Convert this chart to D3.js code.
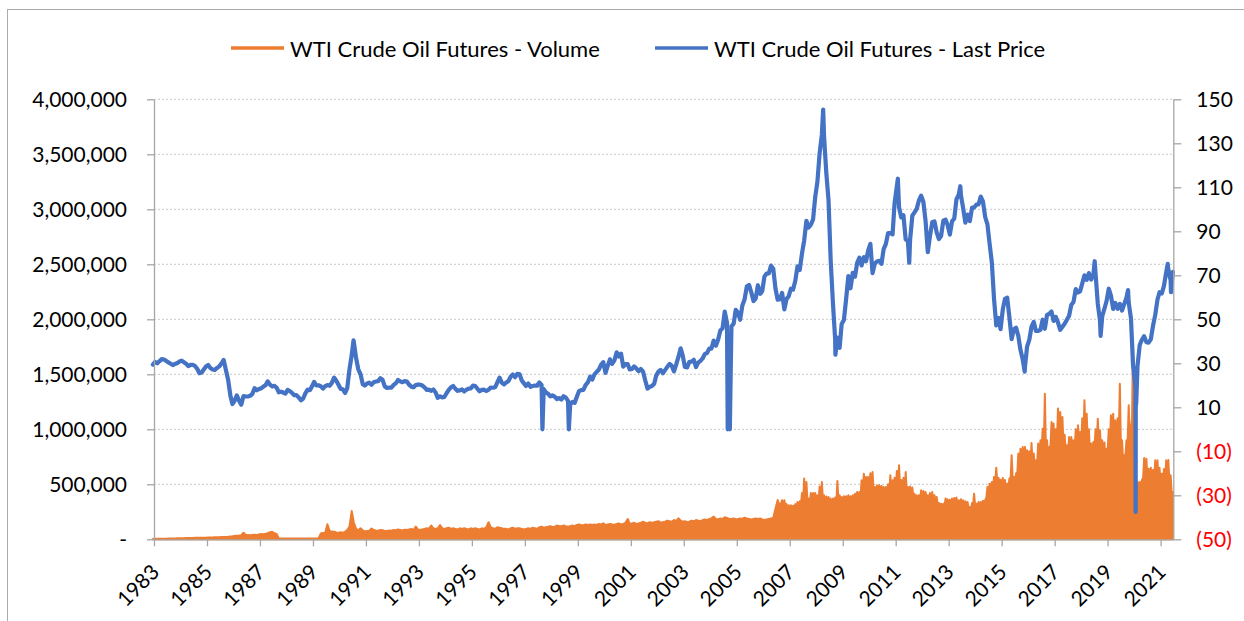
<!DOCTYPE html>
<html>
<head>
<meta charset="utf-8">
<script src="https://cdn.jsdelivr.net/npm/d3@7/dist/d3.min.js"></script>
<style>
  body { margin: 0; background: #fff; }
  text { font-family: Lato, "Open Sans", sans-serif; }
</style>
</head>
<body>
<svg id="chart" width="1244" height="621"></svg>
<script>
// ---- data ---------------------------------------------------------------
// Monthly series start in March 1983 (first month of WTI futures trading)
const firstMonth = [1983, 3];

// Last price, USD per barrel, one value per month (Mar 1983 - Sep 2021)
const priceMonthly = [
  /*1983*/ 29.4, 30.6, 30.0, 31.0, 31.9, 31.7, 31.1, 30.4, 29.8, 29.2,
  /*1984*/ 29.7, 30.1, 30.8, 31.2, 30.5, 29.8, 28.7, 29.3, 29.3, 28.8, 27.5, 25.5,
  /*1985*/ 25.8, 27.3, 28.5, 29.2, 27.9, 27.2, 27.0, 27.9, 28.6, 29.9, 31.5, 27.0,
  /*1986*/ 22.5, 15.4, 11.5, 13.0, 15.4, 13.0, 11.2, 15.1, 14.9, 14.9, 15.2, 16.1,
  /*1987*/ 18.7, 17.7, 18.3, 18.6, 19.4, 20.0, 21.8, 20.3, 19.5, 19.8, 18.9, 16.8,
  /*1988*/ 17.1, 16.7, 16.2, 17.9, 17.4, 16.5, 15.5, 15.5, 14.5, 13.2, 14.0, 16.3,
  /*1989*/ 18.0, 17.8, 19.4, 21.5, 20.0, 20.0, 19.6, 18.5, 19.6, 20.1, 19.8, 21.1,
  /*1990*/ 23.5, 22.1, 20.4, 18.4, 18.2, 16.5, 18.6, 27.2, 33.7, 39.5, 32.3, 27.3,
  /*1991*/ 25.0, 20.5, 19.9, 20.8, 21.2, 20.2, 21.4, 21.7, 21.9, 23.2, 22.5, 19.5,
  /*1992*/ 18.8, 19.0, 18.9, 20.2, 20.9, 22.4, 21.8, 21.4, 21.9, 21.7, 20.3, 19.4,
  /*1993*/ 19.1, 20.1, 20.3, 20.3, 19.9, 19.1, 17.9, 18.0, 17.5, 18.1, 16.7, 14.3,
  /*1994*/ 15.0, 14.5, 14.7, 16.4, 17.9, 19.1, 19.7, 18.4, 17.5, 17.7, 18.1, 17.2,
  /*1995*/ 18.0, 18.5, 18.6, 19.9, 19.7, 18.4, 17.3, 17.9, 18.0, 17.4, 18.0, 19.0,
  /*1996*/ 18.9, 19.1, 21.3, 23.5, 21.2, 20.4, 21.3, 21.9, 23.9, 24.9, 23.7, 25.2,
  /*1997*/ 25.1, 22.2, 21.0, 19.7, 20.8, 19.3, 19.7, 19.9, 19.8, 21.3, 20.2, 18.3,
  /*1998*/ 16.7, 16.1, 15.0, 15.4, 14.9, 13.7, 14.2, 13.5, 15.0, 14.4, 12.9, 11.3,
  /*1999*/ 12.5, 12.0, 14.7, 17.3, 17.8, 17.9, 20.1, 21.3, 23.9, 22.6, 25.0, 26.1,
  /*2000*/ 27.2, 29.4, 30.5, 25.7, 28.8, 31.8, 29.7, 31.3, 35.0, 33.1, 34.4, 28.5,
  /*2001*/ 29.6, 29.6, 27.2, 27.4, 28.6, 27.6, 26.4, 27.4, 26.2, 22.2, 18.5, 19.3,
  /*2002*/ 19.7, 20.7, 24.4, 26.2, 27.0, 25.5, 26.9, 28.4, 29.7, 28.9, 26.3, 29.4,
  /*2003*/ 32.9, 36.8, 33.6, 28.3, 28.1, 30.7, 30.8, 31.6, 28.3, 30.3, 31.1, 32.2,
  /*2004*/ 34.3, 34.7, 36.7, 36.7, 40.3, 38.0, 40.7, 44.9, 45.9, 53.5, 48.5, 43.3,
  /*2005*/ 46.8, 48.0, 54.3, 53.0, 49.8, 56.3, 59.0, 64.9, 65.6, 62.4, 58.3, 59.4,
  /*2006*/ 65.5, 61.6, 62.7, 69.4, 70.8, 70.9, 74.4, 73.0, 63.8, 58.9, 59.1, 62.0,
  /*2007*/ 54.5, 59.3, 60.4, 63.9, 63.5, 67.5, 74.1, 72.4, 79.9, 85.8, 94.8, 91.7,
  /*2008*/ 93.0, 95.4, 105.5, 112.6, 125.4, 133.9, 133.4, 116.7, 104.1, 76.6, 57.3, 41.1,
  /*2009*/ 41.7, 37.0, 47.9, 49.7, 59.0, 69.6, 64.1, 71.1, 69.4, 75.7, 78.0, 74.5,
  /*2010*/ 78.3, 76.4, 81.2, 84.3, 71.0, 75.3, 76.3, 76.6, 75.2, 81.9, 84.3, 89.2,
  /*2011*/ 89.2, 88.6, 102.9, 110.5, 100.9, 96.3, 97.3, 86.3, 85.5, 86.3, 97.2, 98.6,
  /*2012*/ 100.3, 104.2, 106.2, 103.3, 94.7, 80.5, 87.9, 94.1, 94.5, 89.5, 86.5, 87.9,
  /*2013*/ 94.8, 95.3, 92.9, 88.5, 94.5, 95.8, 104.6, 106.6, 106.3, 100.5, 93.9, 97.6,
  /*2014*/ 94.6, 100.8, 100.8, 102.1, 102.2, 105.8, 103.6, 96.5, 93.2, 84.4, 75.8, 59.3,
  /*2015*/ 47.2, 50.6, 45.5, 54.5, 59.3, 59.8, 50.9, 41.0, 45.5, 46.2, 42.4, 36.0,
  /*2016*/ 31.7, 28.5, 37.6, 40.8, 46.7, 48.8, 44.7, 44.7, 45.2, 49.8, 45.7, 52.0,
  /*2017*/ 52.5, 53.5, 49.3, 51.1, 48.5, 45.2, 46.6, 48.0, 49.8, 51.6, 56.6, 57.9,
  /*2018*/ 63.7, 62.2, 62.7, 66.3, 70.0, 67.9, 71.0, 68.1, 70.2, 70.8, 57.0, 49.5,
  /*2019*/ 51.4, 54.9, 58.2, 63.9, 60.8, 54.7, 57.4, 54.8, 57.0, 54.0, 57.0, 59.8,
  /*2020*/ 57.5, 50.5, 29.2, 19.9, 28.6, 38.3, 40.7, 42.3, 39.6, 39.4, 40.9, 47.0,
  /*2021*/ 52.0, 59.0, 62.3, 61.7, 65.2, 71.4, 72.5, 67.7, 71.6
];

// Individual daily prints that stand out from the monthly path
const priceDaily = [
  ["1990-10-10", 40.4],
  ["1997-11-27", 0], ["1998-11-26", 0],
  ["2004-11-25", 0], ["2004-12-24", 0],
  ["2008-07-03", 145.3], ["2008-12-19", 33.9],
  ["2011-04-29", 113.9], ["2011-10-03", 75.7],
  ["2013-09-06", 110.5],
  ["2016-02-11", 26.2],
  ["2018-10-03", 76.4], ["2018-12-24", 42.5],
  ["2020-01-06", 63.3],
  ["2020-04-17", 18.3], ["2020-04-20", -37.6], ["2020-04-21", 10.0], ["2020-04-28", 12.3],
  ["2021-07-06", 75.2], ["2021-08-20", 62.3]
];

// Volume, thousand contracts: busiest session of each month (Mar 1983 - Sep 2021)
const volumePeak = [
  /*1983*/ 3, 4, 4, 5, 5, 6, 6, 7, 7, 8,
  /*1984*/ 8, 9, 9, 10, 10, 11, 11, 12, 12, 13, 13, 14,
  /*1985*/ 14, 15, 15, 16, 17, 17, 18, 19, 19, 20, 21, 22,
  /*1986*/ 23, 25, 27, 30, 32, 34, 38, 60, 42, 38, 36, 40,
  /*1987*/ 42, 40, 44, 48, 46, 50, 55, 65, 69, 55, 48, 8,
  /*1988*/ 8, 8, 8, 8, 8, 8, 8, 8, 8, 8, 8, 8,
  /*1989*/ 8, 8, 8, 8, 8, 8, 52, 58, 60, 136, 75, 70,
  /*1990*/ 68, 62, 60, 64, 60, 68, 85, 115, 257, 150, 95, 80,
  /*1991*/ 100, 82, 72, 76, 78, 98, 85, 80, 78, 85, 82, 75,
  /*1992*/ 75, 80, 78, 85, 82, 90, 85, 80, 88, 85, 90, 95,
  /*1993*/ 85, 115, 90, 85, 90, 95, 100, 95, 126, 100, 95, 100,
  /*1994*/ 130, 100, 95, 100, 105, 95, 100, 95, 90, 100, 95, 100,
  /*1995*/ 95, 90, 100, 95, 100, 95, 90, 100, 95, 110, 155, 110,
  /*1996*/ 100, 95, 110, 105, 100, 95, 95, 90, 100, 105, 95, 100,
  /*1997*/ 100, 95, 90, 95, 100, 95, 105, 100, 95, 110, 115, 105,
  /*1998*/ 110, 115, 120, 110, 115, 125, 120, 118, 126, 120, 115, 120,
  /*1999*/ 125, 120, 130, 135, 130, 128, 135, 130, 136, 130, 135, 130,
  /*2000*/ 140, 135, 145, 130, 135, 140, 135, 130, 140, 145, 135, 140,
  /*2001*/ 150, 185, 140, 145, 150, 140, 145, 150, 160, 150, 145, 155,
  /*2002*/ 150, 155, 160, 165, 150, 155, 160, 170, 165, 160, 176, 165,
  /*2003*/ 191, 170, 160, 165, 155, 160, 170, 165, 175, 170, 165, 175,
  /*2004*/ 180, 175, 185, 190, 206, 185, 180, 190, 185, 200, 195, 185,
  /*2005*/ 185, 190, 180, 185, 190, 185, 197, 190, 185, 180, 185, 190,
  /*2006*/ 185, 190, 180, 175, 180, 185, 190, 195, 280, 357, 300, 355,
  /*2007*/ 355, 320, 309, 309, 305, 320, 339, 345, 420, 552, 521, 370,
  /*2008*/ 421, 421, 421, 400, 480, 521, 400, 390, 385, 370, 370, 380,
  /*2009*/ 530, 400, 385, 391, 391, 400, 391, 400, 415, 430, 430, 536,
  /*2010*/ 597, 567, 567, 600, 612, 476, 491, 491, 485, 476, 476, 500,
  /*2011*/ 582, 536, 560, 620, 673, 540, 560, 612, 476, 480, 470, 415,
  /*2012*/ 400, 400, 445, 440, 430, 400, 420, 430, 400, 385, 330, 324,
  /*2013*/ 324, 370, 365, 360, 370, 375, 379, 355, 365, 355, 345, 339,
  /*2014*/ 294, 330, 415, 324, 339, 339, 350, 355, 476, 506, 520, 567,
  /*2015*/ 651, 560, 542, 558, 540, 506, 552, 764, 567, 600, 779, 824,
  /*2016*/ 840, 840, 809, 800, 876, 780, 718, 870, 900, 1006, 1324, 900,
  /*2017*/ 840, 1067, 1052, 1000, 1188, 1158, 1112, 950, 855, 930, 930, 900,
  /*2018*/ 1000, 1036, 976, 1100, 1264, 1142, 1000, 870, 885, 1000, 1097, 991,
  /*2019*/ 900, 880, 824, 1000, 1127, 1142, 1082, 1100, 1415, 900, 764, 900,
  /*2020*/ 1218, 1000, 1780, 700, 524, 520, 540, 739, 733, 642, 651, 630,
  /*2021*/ 718, 718, 650, 597, 640, 718, 721, 582, 430
];

// Volume, thousand contracts: ordinary busy-session level from Jan 2007 on,
// when daily turnover starts swinging widely around its typical level
const bodyFirstMonth = [2007, 1];
const volumeBody = [
  /*2007*/ 290, 290, 280, 280, 280, 290, 300, 300, 320, 350, 350, 330,
  /*2008*/ 330, 340, 350, 340, 350, 360, 340, 330, 320, 300, 300, 300,
  /*2009*/ 330, 330, 330, 340, 340, 350, 350, 350, 360, 370, 370, 400,
  /*2010*/ 420, 420, 420, 430, 430, 400, 400, 400, 400, 400, 400, 410,
  /*2011*/ 430, 430, 440, 450, 450, 430, 430, 440, 400, 400, 400, 360,
  /*2012*/ 350, 350, 370, 370, 360, 350, 350, 350, 340, 330, 300, 290,
  /*2013*/ 290, 310, 310, 310, 310, 320, 320, 310, 310, 300, 300, 290,
  /*2014*/ 270, 280, 300, 290, 290, 290, 300, 310, 380, 420, 440, 470,
  /*2015*/ 520, 480, 470, 480, 470, 450, 470, 560, 500, 520, 600, 650,
  /*2016*/ 680, 680, 660, 660, 700, 650, 620, 700, 720, 780, 850, 760,
  /*2017*/ 720, 850, 850, 820, 900, 900, 880, 800, 760, 800, 800, 780,
  /*2018*/ 840, 860, 830, 880, 950, 900, 840, 760, 780, 840, 880, 820,
  /*2019*/ 780, 760, 720, 820, 880, 880, 860, 860, 950, 780, 680, 760,
  /*2020*/ 900, 850, 1100, 600, 450, 430, 450, 560, 560, 520, 520, 510,
  /*2021*/ 560, 560, 520, 490, 520, 560, 560, 480, 400
];

const yearTicks = d3.range(1983, 2022, 2);
const volumeTicks = d3.range(0, 4000001, 500000);
const priceTicks = d3.range(-50, 151, 20);
const seriesNames = ["WTI Crude Oil Futures - Volume", "WTI Crude Oil Futures - Last Price"];
const seriesColors = ["#ED7D31", "#4472C4"];

// ---- layout -------------------------------------------------------------
const W = 1244, H = 621;
const plot = { left: 154, right: 1173.3, top: 99.3, bottom: 539.3 };
const svg = d3.select("#chart");

// chart frame (runs past the right and bottom edges of the page)
svg.append("rect")
  .attr("x", 7.5).attr("y", 9.5).attr("width", W + 20).attr("height", H + 20)
  .attr("fill", "#fff").attr("stroke", "#ababab").attr("stroke-width", 1);

const monthDate = (start, i, day) => new Date(start[0], start[1] - 1 + i, day);
const parse = d3.timeParse("%Y-%m-%d");

const x = d3.scaleTime()
  .domain([new Date(1983, 2, 30), new Date(2021, 8, 21)])
  .range([plot.left, plot.right]);
const yVol = d3.scaleLinear().domain([0, 4000000]).range([plot.bottom, plot.top]);
const yPx = d3.scaleLinear().domain([-50, 150]).range([plot.bottom, plot.top]);

// gridlines on the volume scale
svg.append("g").selectAll("line")
  .data(volumeTicks.filter(v => v > 0))
  .join("line")
  .attr("x1", plot.left).attr("x2", plot.right)
  .attr("y1", d => yVol(d)).attr("y2", d => yVol(d))
  .attr("stroke", "#c9c9c9").attr("stroke-width", 1)
  .attr("stroke-dasharray", "2,2");

// ---- series -------------------------------------------------------------
// each month: the ordinary level at its start (once known), then its busiest session
const bodyByKey = new Map(volumeBody.map((v, i) => [+monthDate(bodyFirstMonth, i, 1), v]));
const volPoints = [];
volumePeak.forEach((v, i) => {
  const start = +monthDate(firstMonth, i, 1);
  if (bodyByKey.has(start)) volPoints.push({ date: new Date(start), value: bodyByKey.get(start) * 1000 });
  volPoints.push({ date: monthDate(firstMonth, i, 15), value: v * 1000 });
});
svg.append("path")
  .datum(volPoints)
  .attr("fill", seriesColors[0])
  .attr("stroke", seriesColors[0])
  .attr("stroke-width", 2)
  .attr("stroke-linejoin", "round")
  .attr("d", d3.area()
    .x(d => x(d.date))
    .y0(yVol(0))
    .y1(d => yVol(d.value)));

const pricePoints = priceMonthly.map((v, i) => ({ date: monthDate(firstMonth, i, 15), value: v }))
  .concat(priceDaily.map(([d, v]) => ({ date: parse(d), value: v })))
  .sort((a, b) => a.date - b.date);
svg.append("path")
  .datum(pricePoints)
  .attr("fill", "none")
  .attr("stroke", seriesColors[1])
  .attr("stroke-width", 4.2)
  .attr("stroke-linejoin", "round")
  .attr("stroke-linecap", "round")
  .attr("d", d3.line().x(d => x(d.date)).y(d => yPx(d.value)));

// ---- axes ---------------------------------------------------------------
const axisColor = "#a6a6a6";
function styleAxis(g) {
  g.selectAll("path.domain").attr("stroke", axisColor).attr("stroke-width", 1.3);
  g.selectAll(".tick line").attr("stroke", axisColor).attr("stroke-width", 1.3);
  g.selectAll(".tick text").attr("fill", "#000").attr("font-size", 21);
}

svg.append("g")
  .attr("transform", `translate(${plot.left},0)`)
  .call(d3.axisLeft(yVol).tickValues(volumeTicks).tickSize(7).tickSizeOuter(0).tickPadding(20)
    .tickFormat(v => v === 0 ? "-" : d3.format(",")(v)))
  .call(styleAxis);

svg.append("g")
  .attr("transform", `translate(${plot.right},0)`)
  .call(d3.axisRight(yPx).tickValues(priceTicks).tickSize(8).tickSizeOuter(0).tickPadding(15)
    .tickFormat(v => v < 0 ? `(${-v})` : `${v}`))
  .call(styleAxis)
  .call(g => g.selectAll(".tick text").attr("fill", d => d < 0 ? "#ff0000" : "#000"));

svg.append("g")
  .attr("transform", `translate(0,${plot.bottom})`)
  .call(d3.axisBottom(x).tickValues(yearTicks.map(y => new Date(y, 2, 30))).tickSize(7).tickSizeOuter(0)
    .tickFormat(d => d.getFullYear()))
  .call(styleAxis)
  .call(g => g.selectAll(".tick text")
    .attr("text-anchor", "end")
    .attr("dominant-baseline", "central")
    .attr("y", 0).attr("dy", 0)
    .attr("transform", "translate(0,28) rotate(-45)"));

// ---- legend -------------------------------------------------------------
const legendItems = [
  { name: seriesNames[0], color: seriesColors[0], x0: 231 },
  { name: seriesNames[1], color: seriesColors[1], x0: 655 }
];
const lg = svg.append("g").selectAll("g").data(legendItems).join("g")
  .attr("transform", d => `translate(${d.x0},48)`);
lg.append("line").attr("x1", 0).attr("x2", 53).attr("y1", 0).attr("y2", 0)
  .attr("stroke", d => d.color).attr("stroke-width", 3.5);
lg.append("text").attr("x", 59).attr("y", 0).attr("dominant-baseline", "central")
  .attr("font-size", 22).attr("fill", "#000").text(d => d.name);
</script>
</body>
</html>
